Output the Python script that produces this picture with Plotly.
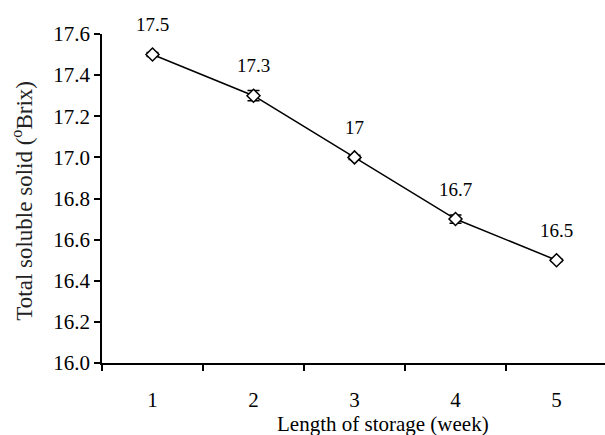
import plotly.graph_objects as go

weeks = [1, 2, 3, 4, 5]
tss = [17.5, 17.3, 17.0, 16.7, 16.5]
tss_err = [0.01, 0.025, 0.01, 0.02, 0.006]
point_labels = [f"{v:g}" for v in tss]
y_ticks = [16.0, 16.2, 16.4, 16.6, 16.8, 17.0, 17.2, 17.4, 17.6]
x_bounds = [0.5, 1.5, 2.5, 3.5, 4.5, 5.5]

FONT = "Liberation Serif, Times New Roman, serif"

fig = go.Figure()
fig.add_trace(go.Scatter(
    x=weeks, y=tss,
    mode="lines+markers",
    line=dict(color="black", width=1.5),
    marker=dict(symbol="diamond", size=10, color="white", line=dict(width=1.5, color="black")),
    error_y=dict(type="data", array=tss_err, visible=True, color="black", thickness=1.5, width=6),
    showlegend=False,
    cliponaxis=False,
))

for x, y, t in zip(weeks, tss, point_labels):
    fig.add_annotation(x=x, y=y, text=t, showarrow=False, yshift=30,
                       font=dict(family=FONT, size=19, color="black"))

fig.add_annotation(xref="paper", yref="paper", x=0.559, y=-0.184, text="Length of storage (week)",
                   showarrow=False, xanchor="center", yanchor="middle",
                   font=dict(family=FONT, size=21, color="black"))
fig.add_annotation(xref="paper", yref="paper", x=-0.158, y=0.492, text="Total soluble solid (<sup>o</sup>Brix)",
                   showarrow=False, xanchor="center", yanchor="middle", textangle=-90,
                   font=dict(family=FONT, size=23, color="#222"))

fig.update_xaxes(
    range=[0.5, 5.48], tickmode="array", tickvals=weeks, ticktext=[str(w) for w in weeks],
    ticks="outside", ticklen=17, tickcolor="rgba(0,0,0,0)",
    minor=dict(tickmode="array", tickvals=x_bounds, ticks="outside", ticklen=6, tickwidth=1.5, tickcolor="black"),
    showline=True, linecolor="black", linewidth=1.5, showgrid=False, zeroline=False,
    tickfont=dict(family=FONT, size=21, color="black"),
)
fig.update_yaxes(
    range=[16.0, 17.6], tickmode="array", tickvals=y_ticks, ticktext=[f"{v:.1f}" for v in y_ticks],
    ticks="outside", ticklen=6, tickwidth=1.5, tickcolor="black",
    showline=True, linecolor="black", linewidth=1.5, showgrid=False, zeroline=False,
    tickfont=dict(family=FONT, size=21, color="black"),
)

fig.update_layout(
    width=605, height=435,
    margin=dict(l=102, r=0, t=34, b=72),
    paper_bgcolor="white", plot_bgcolor="white",
    font=dict(family=FONT, color="black"),
)

fig.write_html("out.html", config={"displayModeBar": False},
               post_script="document.body.style.margin='0';document.body.style.overflow='hidden';")
